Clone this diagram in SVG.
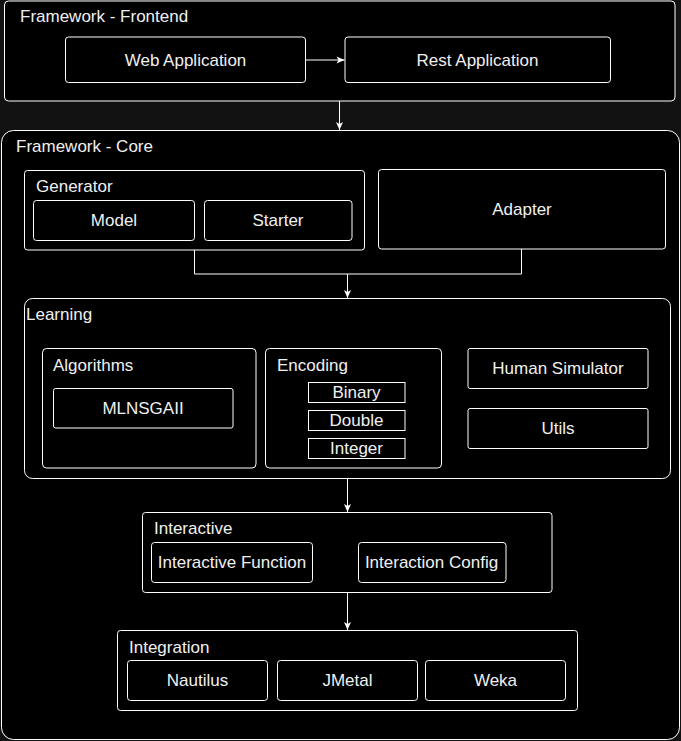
<svg xmlns="http://www.w3.org/2000/svg" width="681" height="741" viewBox="0 0 681 741">
<style>
.box{fill:#000;stroke:#fff;stroke-width:1}
.t{font-family:"Liberation Sans",Arial,sans-serif;font-size:17px;fill:#f0f0f0}
.c{text-anchor:middle}
.edge{fill:none;stroke:#fff;stroke-width:1}
</style>
<defs>
<marker id="arr" markerUnits="userSpaceOnUse" markerWidth="10" markerHeight="10" viewBox="0 0 10 10" refX="9" refY="5" orient="auto">
<path d="M1,1.5 L9,5 L1,8.5 L3,5 Z" fill="#fff"/>
</marker>
</defs>
<rect x="0" y="0" width="681" height="741" fill="#121212"/>

<g id="frontend">
<rect class="box" x="4.5" y="1" width="670.5" height="100" rx="4"/>
<text class="t" x="20" y="22">Framework - Frontend</text>
</g>
<g id="web-application">
<rect class="box" x="65.5" y="37" width="240" height="45.5" rx="3"/>
<text class="t c" x="185.5" y="65.5">Web Application</text>
</g>
<g id="rest-application">
<rect class="box" x="345" y="37" width="265.5" height="45.5" rx="3" stroke="#cfcfcf"/>
<text class="t c" x="477.5" y="65.5">Rest Application</text>
</g>

<g id="core">
<rect class="box" x="1.5" y="130.5" width="678" height="609" rx="12"/>
<text class="t" x="16" y="152">Framework - Core</text>
</g>
<g id="generator">
<rect class="box" x="24.5" y="170.5" width="340" height="79.5" rx="3"/>
<text class="t" x="36" y="192">Generator</text>
</g>
<g id="model">
<rect class="box" x="33.5" y="200.5" width="161" height="40" rx="3"/>
<text class="t c" x="114" y="226">Model</text>
</g>
<g id="starter">
<rect class="box" x="204.5" y="200.5" width="147.5" height="40" rx="3"/>
<text class="t c" x="278" y="226">Starter</text>
</g>
<g id="adapter">
<rect class="box" x="378.5" y="169.5" width="287" height="79.5" rx="3"/>
<text class="t c" x="522" y="214.5">Adapter</text>
</g>

<g id="learning">
<rect class="box" x="24.5" y="298.5" width="646" height="180" rx="8"/>
<text class="t" x="26" y="320">Learning</text>
</g>
<g id="algorithms">
<rect class="box" x="42.5" y="348.5" width="213.5" height="119.5" rx="4"/>
<text class="t" x="53" y="370.5">Algorithms</text>
</g>
<g id="mlnsgaii">
<rect class="box" x="53.5" y="388.5" width="179.5" height="39.5" rx="2"/>
<text class="t c" x="143" y="414">MLNSGAII</text>
</g>
<g id="encoding">
<rect class="box" x="265.5" y="348.5" width="176" height="119.5" rx="4"/>
<text class="t" x="277" y="370.5">Encoding</text>
</g>
<g id="binary">
<rect class="box" x="308.5" y="382.5" width="96.5" height="20"/>
<text class="t c" x="356.5" y="397.5">Binary</text>
</g>
<g id="double">
<rect class="box" x="308.5" y="410.5" width="96.5" height="20"/>
<text class="t c" x="356.5" y="425.5">Double</text>
</g>
<g id="integer">
<rect class="box" x="308.5" y="438.5" width="96.5" height="20"/>
<text class="t c" x="356.5" y="453.5">Integer</text>
</g>
<g id="human-simulator">
<rect class="box" x="468" y="348.5" width="180" height="40" rx="2"/>
<text class="t c" x="558" y="373.5">Human Simulator</text>
</g>
<g id="utils">
<rect class="box" x="468" y="408.5" width="180" height="40" rx="2"/>
<text class="t c" x="558" y="433.5">Utils</text>
</g>

<g id="interactive">
<rect class="box" x="142.5" y="512.5" width="409.5" height="80" rx="3"/>
<text class="t" x="154" y="534">Interactive</text>
</g>
<g id="interactive-function">
<rect class="box" x="151.5" y="542.5" width="161" height="40" rx="3"/>
<text class="t c" x="232" y="567.5">Interactive Function</text>
</g>
<g id="interaction-config">
<rect class="box" x="358.5" y="542.5" width="147.5" height="40" rx="3"/>
<text class="t c" x="431.5" y="567.5">Interaction Config</text>
</g>

<g id="integration">
<rect class="box" x="117.5" y="630.5" width="460" height="80" rx="3"/>
<text class="t" x="129" y="653">Integration</text>
</g>
<g id="nautilus">
<rect class="box" x="127.5" y="660.5" width="140" height="40" rx="3"/>
<text class="t c" x="197.5" y="685.5">Nautilus</text>
</g>
<g id="jmetal">
<rect class="box" x="277.5" y="660.5" width="140" height="40" rx="3"/>
<text class="t c" x="347.5" y="685.5">JMetal</text>
</g>
<g id="weka">
<rect class="box" x="425.5" y="660.5" width="140" height="40" rx="3"/>
<text class="t c" x="495.5" y="685.5">Weka</text>
</g>

<g id="connectors">
<path class="edge" d="M305.5,60 L344.5,60" marker-end="url(#arr)" stroke="#d8d8d8"/>
<path class="edge" d="M339.5,101 L339.5,130" marker-end="url(#arr)"/>
<path class="edge" d="M194.5,250 L194.5,274 L347.5,274 L347.5,298" marker-end="url(#arr)"/>
<path class="edge" d="M521.5,249 L521.5,274 L347.5,274" stroke="#a8a8a8"/>
<path class="edge" d="M347.5,478.5 L347.5,512" marker-end="url(#arr)"/>
<path class="edge" d="M347.5,592.5 L347.5,630" marker-end="url(#arr)"/>
</g>
</svg>
